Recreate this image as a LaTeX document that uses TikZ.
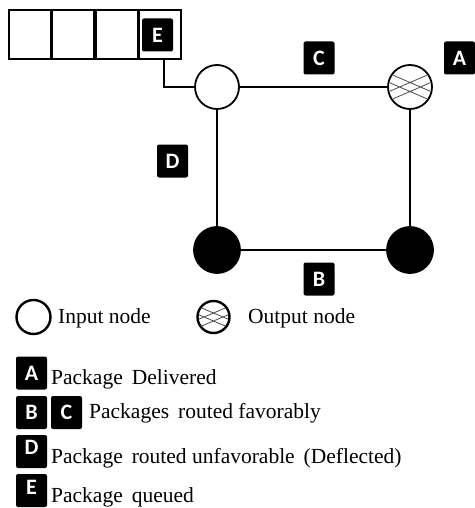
\documentclass[tikz,border=0pt]{standalone}
\usepackage{fontspec}
\setmainfont{Liberation Serif}
\newfontfamily\serifont{Liberation Serif}
\newfontfamily\lblfont{Carlito}
\begin{document}
\begin{tikzpicture}[x=1pt,y=-1pt,
  lbl/.style={fill=black,text=white,rounded corners=2pt,minimum width=31pt,minimum height=33pt,inner sep=0pt,font=\lblfont\bfseries\fontsize{22}{22}\selectfont},
  cell/.style={draw,line width=1.6pt,minimum width=41.75pt,minimum height=49pt,inner sep=0pt},
  nd/.style={circle,draw,line width=1.8pt,minimum size=44pt,inner sep=0pt},
  wire/.style={line width=1.6pt},
  txt/.style={anchor=base west,inner sep=0pt,font=\serifont\fontsize{21.5}{23}\selectfont},
  hatch/.style={gray!60!black,line width=0.8pt}]
\useasboundingbox (0,0) rectangle (474,508);
\fill[white] (0,0) rectangle (474,508);
% queue
\node[cell] (q1) at (29.9,34.5) {};
\node[cell,anchor=west] (q2) at (q1.east) {};
\node[cell,anchor=west] (q3) at (q2.east) {};
\node[cell,anchor=west] (q4) at (q3.east) {};
\node[lbl] (e) at (157.5,35) {E};
\coordinate (qout) at (164,59);
% nodes
\node[nd,fill=white] (in) at (217,87) {};
\node[nd,fill=white] (out) at (410,87) {};
\begin{scope}
\clip (410,87) circle (21pt);
\draw[hatch] (388,73) -- (432,92) (388,92) -- (432,73) (388,82) -- (432,101) (388,101) -- (432,82);
\end{scope}
\node[nd,minimum size=46pt,fill=black] (bl) at (217,250) {};
\node[nd,minimum size=46pt,fill=black] (br) at (410,250) {};
% wires
\draw[wire] (qout) |- (in);
\draw[wire] (in) -- (out);
\draw[wire] (in) -- (bl);
\draw[wire] (out) -- (br);
\draw[wire] (bl) -- (br);
% labels
\node[lbl] (c) at (319,58) {C};
\node[lbl] (a) at (459.5,58) {A};
\node[lbl] (d) at (172.5,161) {D};
\node[lbl] (b) at (319,279) {B};
% legend
\node[circle,draw,line width=2.4pt,minimum size=34pt,inner sep=0pt] (lin) at (33.5,317) {};
\node[txt] (tin) at (58,323) {Input node};
\node[circle,draw,line width=2.4pt,minimum size=32pt,inner sep=0pt] (lout) at (213.5,317) {};
\begin{scope}
\clip (213.5,317) circle (15pt);
\draw[hatch] (197,306) -- (230,320) (197,320) -- (230,306) (197,314) -- (230,328) (197,328) -- (230,314);
\end{scope}
\node[txt] (tout) at (248,323) {Output node};
\node[lbl] (la) at (31.5,373) {A};
\node[txt] (ta) at (51,384) {Package\, Delivered};
\node[lbl] (lb) at (31.5,412.5) {B};
\node[lbl] (lc) at (66.5,412.5) {C};
\node[txt] (tbc) at (89,418) {Packages\, routed favorably};
\node[lbl,text depth=8pt] (ld) at (31.5,451.5) {D};
\node[txt] (td) at (51,463) {Package\, routed unfavorable\, (Deflected)};
\node[lbl,text depth=6pt] (le) at (31.5,490.5) {E};
\node[txt] (te) at (51,502) {Package\, queued};
\end{tikzpicture}
\end{document}
